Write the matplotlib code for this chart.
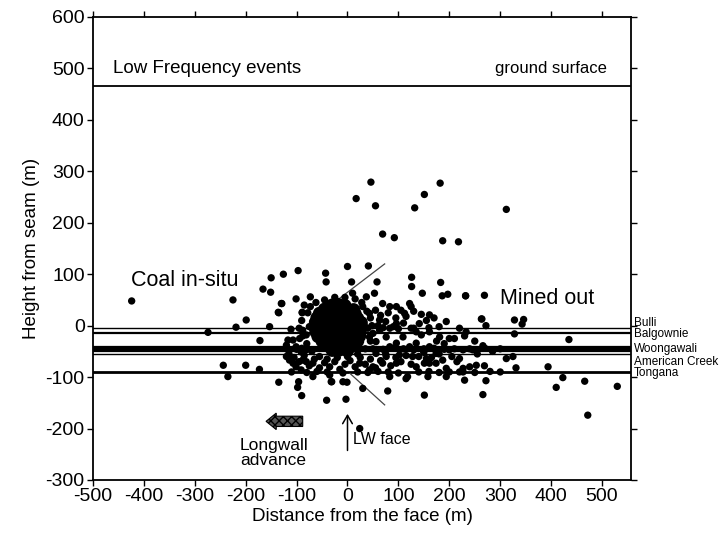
"""
Microseismic events around a longwall face -- height from seam vs distance
from the face, with the coal seams drawn as horizontal bands.
Output: out.png
"""
import matplotlib
matplotlib.use("Agg")
import matplotlib.pyplot as plt
from matplotlib.patches import FancyArrow

plt.rcParams.update({"font.family": ["Liberation Sans", "DejaVu Sans"],
                     "axes.unicode_minus": False})

# ── Data ─────────────────────────────────────────────────────────────────────
# scattered events well away from the face
far_x = [46, 182, 151, 17, 55, 132, 312, 69, 92, 187, 218, 0, 41, -97, -126,
         -43, -150, 126, -42, 8, 58, 126, 183, -166, -151, -424, -225, 269,
         232, 264, 328, 343, 346, 435, -199, -274, -219, -172, -244, -200,
         -173, -235, 394, 423, 410, 466, 530, 472, 24, -3, 30, 79, 151, 266,
         -135, -96, -98, -90, -41, -31, 272, 230, 331, 325, 312]
far_y = [279, 277, 255, 247, 233, 229, 226, 178, 171, 165, 163, 115, 116, 107,
         100, 102, 93, 94, 85, 85, 85, 76, 84, 71, 65, 48, 50, 59, 58, 13,
         11, 3, 12, -27, 11, -13, -3, -29, -77, -77, -85, -99, -80, -101,
         -120, -108, -118, -174, -200, -143, -122, -127, -135, -134, -110,
         -109, -120, -136, -145, -109, -107, -106, -82, -60, -64]

# events in the disturbed zone around the face (outside the solid core)
near_x = [-101, -129, -136, -89, -73, -73, 186, 197, 232, 147, 53, 10, 69, 83,
          96, 122, 125, 112, 161, 141, 96, 63, 43, 30, 37, 194, 220, -117,
          -120, -107, -91, -68, -35, -9, 43, 83, 115, 158, 194, 227, 240, 220,
          187, 161, 135, 96, 69, 50, 24, -68, -88, -81, -101, -114, -94, -81,
          -75, -68, -88, -153, -111, -130, -135, -89, -107, -114, -101, -81,
          -91, -120, 43, 56, 76, 83, 96, 109, 122, 135, 148, 161, 174, 200,
          227, 246, 56, 76, 102, 128, 155, 63, 83, 135, 161, 181, 200, 263,
          272, 233, 328, 266, 269, 253, 227, 194, 174, 151, 118, -32, -1, -9]
near_y = [52, 43, 26, 26, 56, 37, 58, 61, 58, 63, 63, 63, 43, 37, 37, 43, 37,
          24, 21, 4, 4, 11, 24, 37, 56, 8, -5, -28, -60, -73, -86, -99, -96,
          -92, -86, -99, -103, -99, -99, -90, -80, -64, -67, -73, -80, -73,
          -73, -80, -73, -73, -67, -47, -41, -47, -25, -18, -2, 8, -9, -2, -7,
          43, 25, 25, -28, -67, -80, -70, -51, -38, -22, -31, -22, -41, -34,
          -22, -41, -34, -47, -41, -54, -47, -47, -47, -54, -60, -57, -60,
          -64, -9, -5, -12, -12, -22, -25, 13, 0, -12, -16, -39, -78, -77,
          -83, -83, -73, -73, -99, -109, -110, -109]

# the crowded band just outside the core
band_x = [-85, -78, -90, -95, -88, -80, -70, -55, -40, -20, 0, 20, 35, 45, 50,
          48, 45, 38, 28, 15, -5, -25, -45, -62,
          -115, -105, -95, -85, -75, -65, -55, -45, -35, -25, -15, -5, 5, 15,
          25, 35, 45, 55, 65, 75, 85, 95, 105, 115, 125, 140, 150, 165, 180,
          205, 215, 255, 285, 300,
          55, 65, 80, 95, 105, 115, 130, 145, 155, 170, 180, 60, 75, 90, 110,
          125, 145, 175, 190, 210, 230, 250]
band_y = [40, 25, 10, -5, -20, -35, -50, -60, -65, -62, -60, -55, -45, -30,
          -15, 0, 15, 28, 45, 52, 55, 55, 50, 45,
          -55, -62, -70, -58, -78, -65, -82, -72, -80, -70, -85, -75, -68, -80,
          -62, -75, -65, -82, -68, -55, -78, -62, -70, -58, -75, -60, -52,
          -62, -55, -60, -70, -55, -50, -45,
          30, 20, 25, 15, 30, 18, 28, 22, 10, 15, -2, 0, 8, -2, 5, -5, -18,
          -30, -35, -25, -20, -30]

# events that sit on the seam horizons (merge with the seam lines)
seam_x = [-120, -100, -90, 50, 70, 90, 110, 130, 150, 170, 190, 210, 240, 270,
          -110, -80, -60, -40, 20, 40, 60, 80, 100, 140, 160, 180, 200, 220,
          250, 280, 300, 40, 70, 100, 130, 160]
seam_y = [-45, -46, -44, -45, -46, -44, -45, -47, -45, -44, -46, -45, -45, -44,
          -90, -91, -89, -90, -90, -91, -89, -90, -92, -90, -89, -91, -90, -90,
          -91, -89, -90, -5, -4, -6, -5, -4]

# solid cluster right at the face
core_x = [-30, -18, -5, -45, -35, -22, -10, 2, 12, -55, -42, -30, -20, -8, 5,
          15, -60, -50, -38, -26, -14, -2, 10, 20, -63, -52, -40, -28, -17, -5,
          7, 18, 27, -64, -53, -42, -30, -18, -6, 6, 17, 28, -62, -50, -38,
          -26, -14, -2, 10, 22, -58, -46, -34, -22, -10, 2, 14, 24, -50, -38,
          -26, -14, -2, 10, 20, -40, -28, -16, -4, 8, -30, -15, 0]
core_y = [40, 41, 39, 32, 33, 31, 32, 30, 31, 24, 23, 25, 24, 22, 24, 23, 15,
          16, 14, 15, 16, 14, 15, 14, 6, 5, 7, 6, 5, 6, 7, 5, 6, -3, -2, -4, -3,
          -2, -4, -3, -2, -3, -12, -11, -13, -12, -11, -12, -13, -12, -21, -20,
          -22, -21, -20, -22, -21, -20, -30, -29, -31, -30, -29, -31, -30, -39,
          -38, -40, -39, -38, -48, -47, -49]

# coal seam horizons
seam_names = ["Bulli", "Balgownie", "Woongawali", "American Creek", "Tongana"]
seam_depth = [-4, -14, -45, -56, -90]
seam_lw    = [1.0, 1.6, 4.5, 1.0, 2.0]
label_y    = [5, -17, -45, -70, -93]

ground_surface = 465
face_zone_up   = ([-17, 73], [52, 120])
face_zone_down = ([5, 73], [-93, -154])

# ── Figure ───────────────────────────────────────────────────────────────────
fig = plt.figure(figsize=(7.23, 5.46), dpi=100)
ax = fig.add_axes([0.1286, 0.1209, 0.7442, 0.848])

for y, lw in zip(seam_depth, seam_lw):
    ax.axhline(y, color="black", lw=lw, zorder=2)
ax.axhline(ground_surface, color="black", lw=1.3, zorder=2)

ax.plot(*face_zone_up, color="#444444", lw=0.9, zorder=3)
ax.plot(*face_zone_down, color="#444444", lw=0.9, zorder=3)

for xs, ys in [(far_x, far_y), (near_x, near_y), (band_x, band_y),
               (seam_x, seam_y)]:
    ax.scatter(xs, ys, s=28, color="black", edgecolors="none", zorder=4)
ax.scatter(core_x, core_y, s=90, color="black", edgecolors="none", zorder=4)

ax.set_xlim(-500, 557)
ax.set_ylim(-300, 600)
ax.set_xticks(range(-500, 501, 100))
ax.set_yticks(range(-300, 601, 100))
ax.tick_params(direction="out", length=4, width=1, labelsize=14,
               top=True, right=True, pad=2)
for sp in ax.spines.values():
    sp.set_linewidth(1.3)

ax.set_xlabel("Distance from the face (m)", fontsize=13.5, labelpad=2)
ax.set_ylabel("Height from seam (m)", fontsize=13.5, labelpad=4)

# annotations
ax.text(-460, 500, "Low Frequency events", fontsize=13.5, va="center")
ax.text(510, 500, "ground surface", fontsize=12, va="center", ha="right")
ax.text(-426, 88, "Coal in-situ", fontsize=15.5, va="center")
ax.text(299, 53, "Mined out", fontsize=15.5, va="center")

for name, y in zip(seam_names, label_y):
    ax.text(562, y, name, fontsize=8.5, va="center", clip_on=False)

ax.add_patch(FancyArrow(-88, -186, -52, 0, width=20, head_width=32,
                        head_length=20, length_includes_head=False,
                        facecolor="#555555", edgecolor="black", hatch="xxxx",
                        lw=0.8, zorder=5))
ax.text(-145, -248, "Longwall\nadvance", fontsize=12.5, ha="center",
        va="center", linespacing=1.0)

ax.annotate("", xy=(0, -166), xytext=(0, -248),
            arrowprops=dict(arrowstyle="->,head_width=0.35,head_length=0.6",
                            color="black", lw=1.1))
ax.text(10, -222, "LW face", fontsize=11.5, va="center")

fig.savefig("out.png", dpi=100)
